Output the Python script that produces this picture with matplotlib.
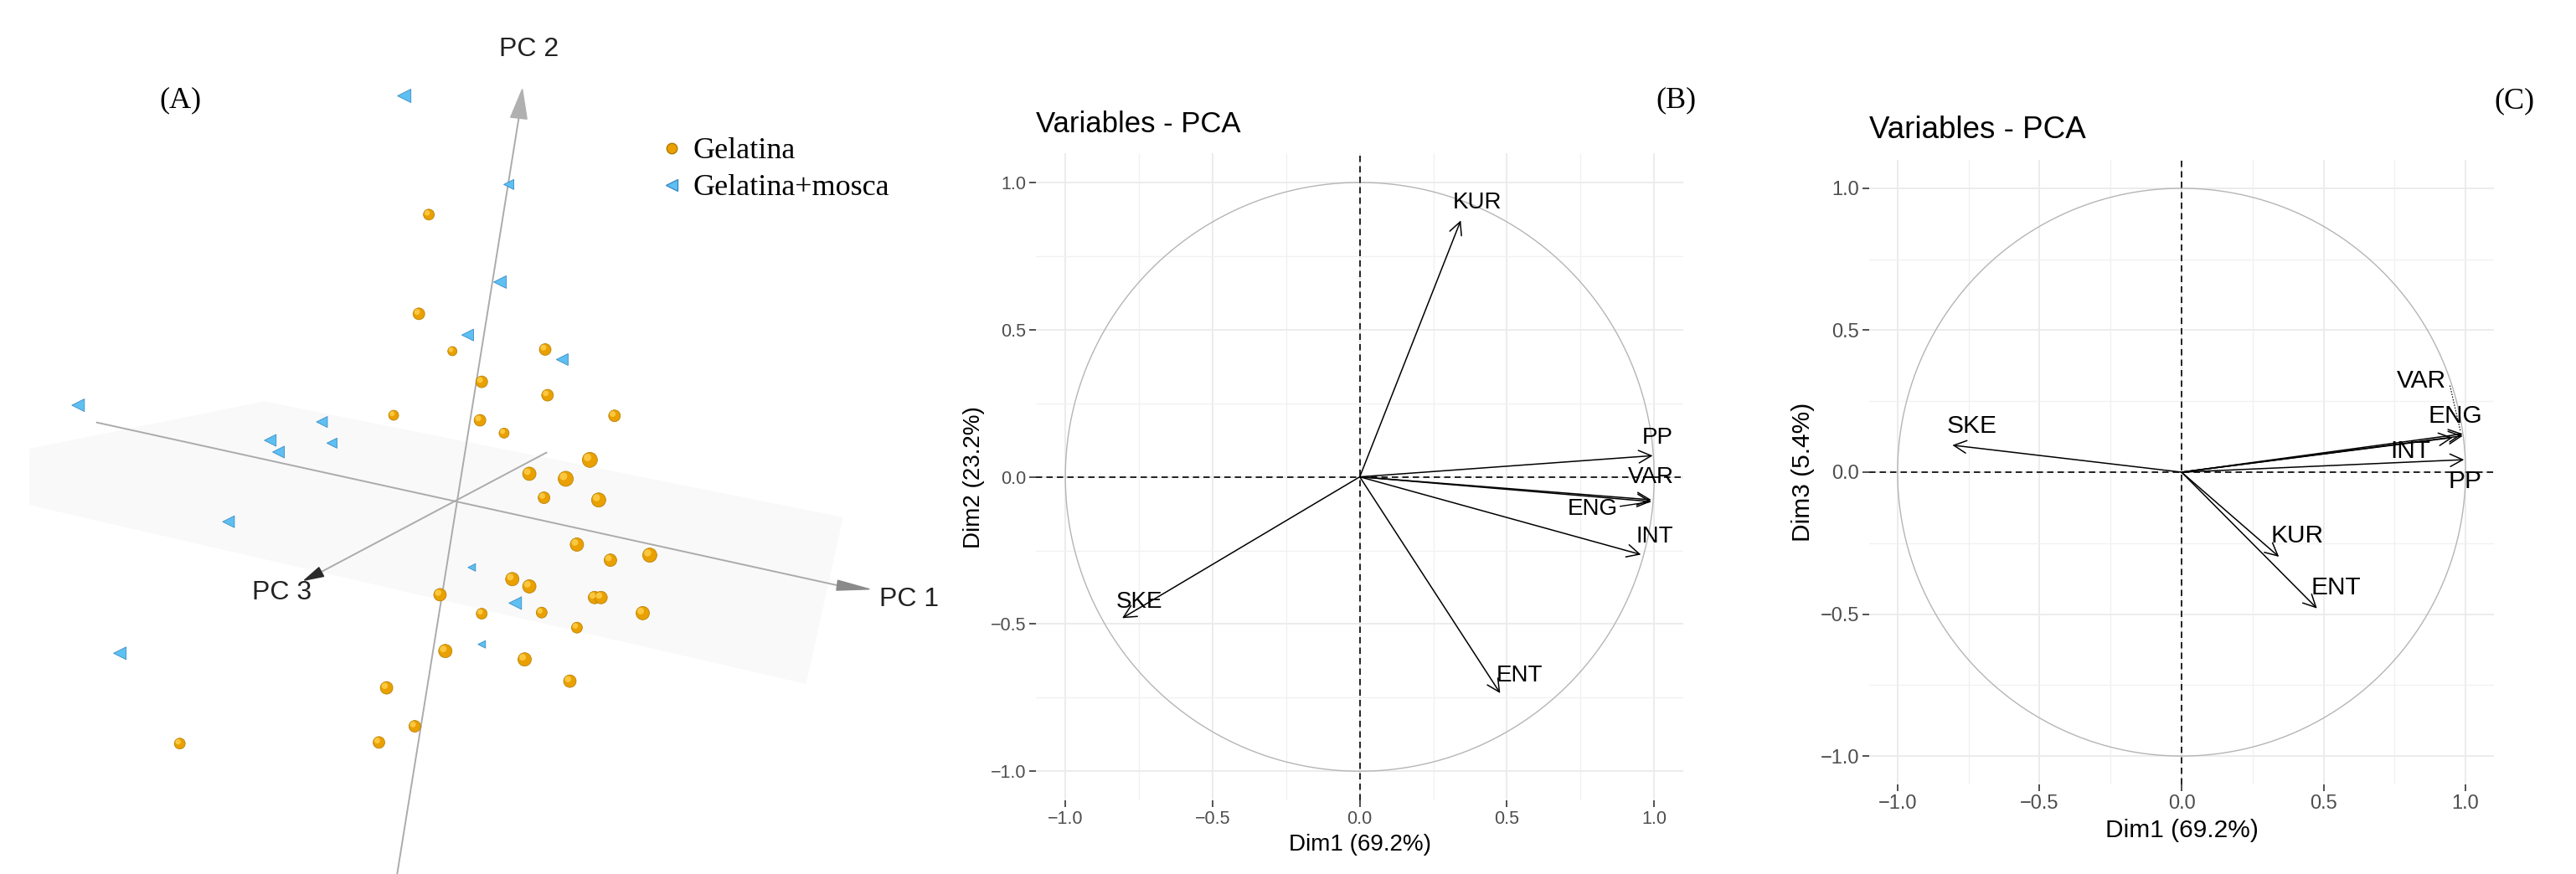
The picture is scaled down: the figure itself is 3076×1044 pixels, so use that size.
import numpy as np
import matplotlib.pyplot as plt
from matplotlib.lines import Line2D
from matplotlib.patches import Polygon

plt.rcParams['font.family'] = ['Liberation Sans', 'DejaVu Sans']

# ---------------------------------------------------------------
# Painel A: escores projetados (coordenadas da vista 3D, em tela)
# ---------------------------------------------------------------
gel_x = [730, 713, 770, 928, 820, 932, 670, 1046, 817, 858, 1004, 901, 963,
         926, 1019, 982, 1039, 1106, 872, 901, 749, 1012, 1023, 820, 922,
         1094, 982, 758, 893, 970, 658, 706, 645, 306]
gel_y = [385, 563, 630, 627, 685, 709, 745, 746, 754, 777, 825, 850, 859,
         893, 897, 977, 1005, 996, 1039, 1052, 1067, 1072, 1072, 1101, 1099,
         1100, 1126, 1168, 1183, 1222, 1234, 1303, 1332, 1334]
# profundidade aparente (diametro em px)
gel_d = [13, 14, 11, 14, 14, 14, 12, 14, 14, 12, 18, 16, 18,
         14, 17, 16, 15, 17, 16, 16, 15, 15, 15, 13, 13,
         16, 13, 16, 16, 15, 15, 14, 14, 13]

mos_x = [688, 866, 851, 796, 957, 133, 548, 460, 474, 565, 389, 803, 877, 820, 204]
mos_y = [172, 331, 506, 601, 645, 727, 757, 790, 811, 795, 936, 1018, 1082, 1156, 1172]
mos_d = [16, 12, 15, 14, 14, 15, 13, 14, 14, 12, 14, 9, 15, 9, 15]

# ---------------------------------------------------------------
# Paineis B e C: correlacoes das variaveis com as dimensoes
# ---------------------------------------------------------------
variaveis = ['PP', 'VAR', 'ENG', 'INT', 'SKE', 'KUR', 'ENT']
dim1 = [0.995, 0.990, 0.990, 0.955, -0.807, 0.343, 0.477]
dim2 = [0.072, -0.078, -0.084, -0.264, -0.480, 0.871, -0.735]
dim3 = [0.044, 0.135, 0.128, 0.122, 0.095, -0.298, -0.480]

# posicoes dos rotulos (repel)
rot_b = {'PP': (1.01, 0.133), 'VAR': (0.99, 0.0), 'ENG': (0.79, -0.11),
         'INT': (1.003, -0.203), 'SKE': (-0.748, -0.425), 'KUR': (0.40, 0.933),
         'ENT': (0.542, -0.676)}
rot_c = {'PP': (0.997, -0.031), 'VAR': (0.846, 0.320), 'ENG': (0.964, 0.197),
         'INT': (0.806, 0.073), 'SKE': (-0.737, 0.162), 'KUR': (0.407, -0.224),
         'ENT': (0.545, -0.408)}

W, H = 3076, 1044
fig = plt.figure(figsize=(W / 100, H / 100), dpi=100)


def cone(ax, base, tip, hw, color):
    bx, by = base
    tx, ty = tip
    dx, dy = tx - bx, ty - by
    n = np.hypot(dx, dy)
    nx, ny = -dy / n * hw, dx / n * hw
    ax.add_patch(Polygon([(bx + nx, by + ny), (tx, ty), (bx - nx, by - ny)],
                         closed=True, color=color, zorder=3))


# ---------------- Painel A ----------------
axA = fig.add_axes([0, 0, 1100 / W, 1])
axA.set_xlim(0, 1568)
axA.set_ylim(1568, 0)
axA.axis('off')

plano = [(50, 805), (450, 720), (1435, 928), (1372, 1227), (50, 906)]
axA.add_patch(Polygon(plano, closed=True, facecolor='#F9F9F9', edgecolor='none', zorder=0))

cor_eixo = '#ABABAB'
axA.plot([165, 1425], [758, 1050], color=cor_eixo, lw=1.4, zorder=1)
axA.plot([676, 883], [1568, 212], color=cor_eixo, lw=1.4, zorder=1)
axA.plot([930, 545], [812, 1027], color=cor_eixo, lw=1.4, zorder=1)
cone(axA, (1425, 1050), (1480, 1057), 9, '#8A8A8A')
cone(axA, (883, 212), (889, 160), 14, '#B0B0B0')
cone(axA, (547, 1026), (518, 1041), 9, '#2A2A2A')

axA.text(900, 88, 'PC 2', fontsize=23, ha='center', va='center', color='#222222')
axA.text(480, 1063, 'PC 3', fontsize=23, ha='center', va='center', color='#222222')
axA.text(1497, 1075, 'PC 1', fontsize=23, ha='left', va='center', color='#222222', clip_on=False)

gd = np.array(gel_d) * 0.72
gx = np.array(gel_x, dtype=float)
gy = np.array(gel_y, dtype=float)
axA.scatter(gx, gy, s=gd ** 2, c='#E9A000', edgecolors='#B07A00', linewidths=0.5, zorder=4)
axA.scatter(gx - gd * 0.3, gy - gd * 0.33, s=(gd * 0.5) ** 2, c='#FFCF4A',
            edgecolors='none', alpha=0.85, zorder=5)

md = np.array(mos_d) * 0.72
axA.scatter(mos_x, mos_y, s=md ** 2, marker='<', c='#5EC0F2', edgecolors='#3A8CC4',
            linewidths=0.6, zorder=4)

hand = [Line2D([], [], marker='o', ls='none', markersize=9, markerfacecolor='#E9A000',
               markeredgecolor='#B07A00'),
        Line2D([], [], marker='<', ls='none', markersize=10, markerfacecolor='#5EC0F2',
               markeredgecolor='#3A8CC4')]
axA.legend(hand, ['Gelatina', 'Gelatina+mosca'], loc='upper left',
           bbox_to_anchor=(0.713, 0.843), frameon=False, handlelength=1.0,
           handletextpad=0.2, labelspacing=0.3, borderpad=0, borderaxespad=0,
           prop={'family': 'Liberation Serif', 'size': 26})

fig.text(215 / W, 1 - 120 / H, '(A)', family='Liberation Serif', fontsize=26, ha='center', va='center')
fig.text(2001 / W, 1 - 120 / H, '(B)', family='Liberation Serif', fontsize=26, ha='center', va='center')
fig.text(3002 / W, 1 - 121 / H, '(C)', family='Liberation Serif', fontsize=26, ha='center', va='center')


# ---------------- Paineis B e C ----------------
def painel(ax, xs, ys, rotulos, xlab, ylab, fs_tick, fs_lab, fs_tit, tit_y):
    ax.set_xlim(-1.1, 1.1)
    ax.set_ylim(-1.1, 1.1)
    for s in ax.spines.values():
        s.set_visible(False)
    ax.set_xticks([-1.0, -0.5, 0.0, 0.5, 1.0])
    ax.set_yticks([-1.0, -0.5, 0.0, 0.5, 1.0])
    ax.set_xticks([-0.75, -0.25, 0.25, 0.75], minor=True)
    ax.set_yticks([-0.75, -0.25, 0.25, 0.75], minor=True)
    ax.grid(which='major', color='#EBEBEB', lw=1.3)
    ax.grid(which='minor', color='#F1F1F1', lw=1.0)
    ax.set_axisbelow(True)
    ax.tick_params(which='major', length=5.5, width=1.2, color='#333333',
                   labelsize=fs_tick, labelcolor='#4D4D4D', pad=3)
    ax.tick_params(which='minor', length=0)

    t = np.linspace(0, 2 * np.pi, 500)
    ax.plot(np.cos(t), np.sin(t), color='#B5B5B5', lw=1.0, zorder=1)
    ax.axhline(0, color='black', lw=1.2, ls=(0, (4.5, 3)), zorder=2)
    ax.axvline(0, color='black', lw=1.2, ls=(0, (4.5, 3)), zorder=2)

    for nome, x, y in zip(variaveis, xs, ys):
        ax.annotate('', xy=(x, y), xytext=(0, 0),
                    arrowprops=dict(arrowstyle='->', color='black', lw=1.1,
                                    mutation_scale=27, shrinkA=0, shrinkB=0), zorder=3)
        lx, ly = rotulos[nome]
        ax.text(lx, ly, nome, fontsize=fs_lab, ha='center', va='center', color='black', zorder=4)

    ax.set_xlabel(xlab, fontsize=fs_lab, labelpad=5)
    ax.set_ylabel(ylab, fontsize=fs_lab, labelpad=5)
    ax.text(0.0, tit_y, 'Variables - PCA', transform=ax.transAxes, fontsize=fs_tit,
            ha='left', va='center')


axB = fig.add_axes([1237 / W, 1 - 956.4 / H, 773.4 / W, 773.6 / H])
painel(axB, dim1, dim2, rot_b, 'Dim1 (69.2%)', 'Dim2 (23.2%)', 15.5, 20, 25, 1.044)
axB.plot([0.885, 0.985], [-0.100, -0.085], color='black', lw=1.0, zorder=3)

axC = fig.add_axes([2232 / W, 1 - 937 / H, 746 / W, 746 / H])
painel(axC, dim1, dim3, rot_c, 'Dim1 (69.2%)', 'Dim3 (5.4%)', 17, 21.5, 26.5, 1.048)
axC.plot([0.945, 0.982], [0.305, 0.145], color='black', lw=0.8, ls=(0, (1.5, 1.5)), zorder=3)

fig.savefig('out.png', dpi=100)
